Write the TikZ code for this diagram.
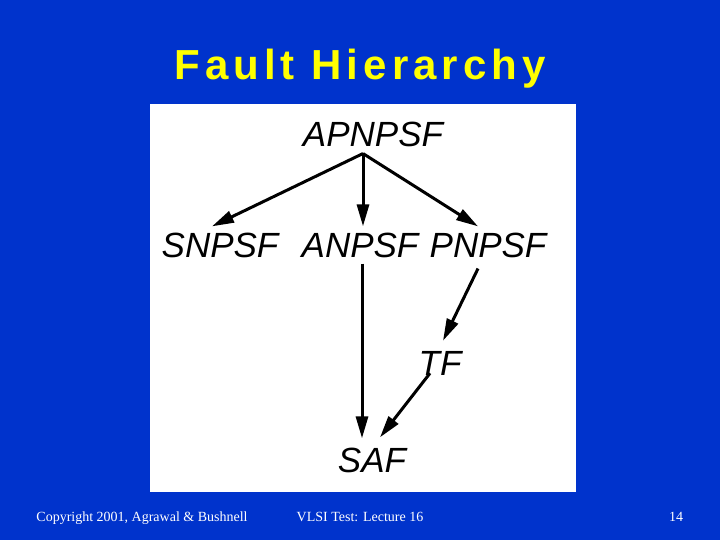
\documentclass[tikz,border=0pt]{standalone}
\usepackage{fontspec}
\setmainfont{Liberation Serif}
\newfontfamily\lsans{Liberation Sans}
\newfontfamily\titlefont[LetterSpace=12]{Liberation Sans}
\usetikzlibrary{arrows.meta}
\definecolor{slideblue}{RGB}{0,51,204}
\definecolor{titleyellow}{RGB}{255,255,0}
\tikzset{
  lbl/.style={anchor=base, inner sep=0pt, font=\lsans\itshape\fontsize{35}{40}\selectfont, text=black},
  arr/.style={line width=3pt, -{Triangle[length=22pt,width=12pt]}},
  foot/.style={anchor=base, inner sep=0pt, text=white, font=\fontsize{14}{16}\selectfont}
}
\begin{document}
\begin{tikzpicture}[x=1pt,y=-1pt]
\fill[slideblue] (0,0) rectangle (720,540);
\useasboundingbox (0,0) rectangle (720,540);
\node[anchor=base, inner sep=0pt, text=titleyellow, font=\titlefont\bfseries\fontsize{42}{48}\selectfont] (title) at (360,80) {Fault Hierarchy};
\fill[white] (150,104) rectangle (576,492);
\node[lbl] (apnpsf) at (373,147) {APNPSF};
\node[lbl] (snpsf) at (220,258) {SNPSF};
\node[lbl] (anpsf) at (360,258) {ANPSF};
\node[lbl] (pnpsf) at (488,258) {PNPSF};
\node[lbl] (tf) at (440,375) {TF};
\node[lbl] (saf) at (372,472) {SAF};
\draw[arr] ([xshift=-10pt,yshift=-6pt]apnpsf.south) -- ([xshift=-8pt,yshift=7pt]snpsf.north);
\draw[arr] ([xshift=-10pt,yshift=-6pt]apnpsf.south) -- ([xshift=3pt,yshift=7pt]anpsf.north);
\draw[arr] ([xshift=-10pt,yshift=-6pt]apnpsf.south) -- ([xshift=-10pt,yshift=7pt]pnpsf.north);
\draw[arr] ([xshift=2pt,yshift=-5pt]anpsf.south) -- ([xshift=-10pt,yshift=9pt]saf.north);
\draw[arr] ([xshift=-10pt,yshift=-10pt]pnpsf.south) -- ([xshift=3pt,yshift=10pt]tf.north);
\draw[arr] ([xshift=-10pt,yshift=2pt]tf.south) -- ([xshift=8pt,yshift=10pt]saf.north);
\node[foot] (copy) at (142,521) {Copyright 2001, Agrawal \& Bushnell};
\node[foot] (course) at (360,521) {VLSI Test: Lecture 16};
\node[foot] (page) at (676,521) {14};
\end{tikzpicture}
\end{document}
